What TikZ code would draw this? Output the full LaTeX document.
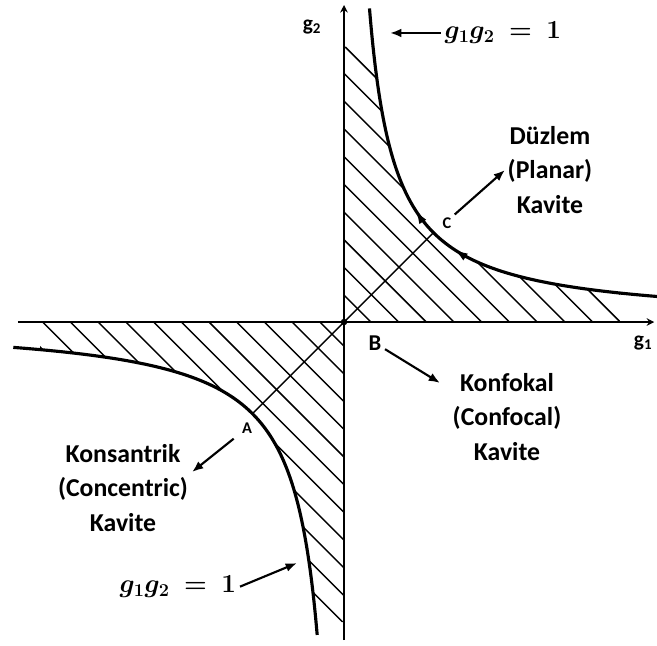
\documentclass[tikz,border=0pt]{standalone}
\usepackage{bm}
\usepackage{fontspec}
\newfontfamily\kavfont{Carlito}
\usetikzlibrary{arrows.meta,positioning,decorations.markings}

\begin{document}
\begin{tikzpicture}[x=2.5cm, y=2.5cm,
    axis/.style={line width=2.3pt, -{Stealth[length=6pt,width=6pt]}},
    branch/.style={line width=2.5pt},
    hatch/.style={line width=1.15pt},
    pointer/.style={line width=1.7pt, -{Latex[length=9pt,width=7pt]}},
    kavite/.style={font=\kavfont\bfseries\fontsize{20.5}{27.5}\selectfont, align=center, inner sep=2pt},
    eqn/.style={font=\fontsize{22}{26}\selectfont, inner sep=3pt},
    ptlbl/.style={font=\kavfont\bfseries\fontsize{13}{15}\selectfont, inner sep=1pt},
    blbl/.style={font=\kavfont\bfseries\fontsize{18}{20}\selectfont, inner sep=1pt},
    axlbl/.style={font=\kavfont\bfseries\fontsize{17}{19}\selectfont, inner sep=1pt}
]
    \useasboundingbox (-3.848,-3.613) rectangle (3.501,3.602);

    % hatching, stable region g1,g2 > 0
    \begin{scope}
        \clip (0,0) -- (0,3.08) -- plot[domain=-1.125:1.128, samples=80] ({exp(\x)},{exp(-\x)}) -- (3.09,0) -- cycle;
        \foreach \c in {0.3,0.61,...,3.8}
            \draw[hatch] (\c,0) -- (0,\c);
    \end{scope}

    % hatching, stable region g1,g2 < 0
    \begin{scope}
        \clip (0,0) -- (0,-3.356) -- plot[domain=-1.1864:1.1994, samples=80] ({-1.0247*exp(\x)},{-1.0247*exp(-\x)}) -- (-3.40,0) -- cycle;
        \foreach \c in {0.27,0.58,...,3.8}
            \draw[hatch] (-\c,0) -- (0,-\c);
    \end{scope}

    % axes
    \coordinate (origin) at (0,0);
    \coordinate (xmin) at (-3.647,0);
    \coordinate (xmax) at (3.47,0);
    \coordinate (ymin) at (0,-3.557);
    \coordinate (ymax) at (0,3.546);
    \draw[axis] (xmin) -- (xmax);
    \draw[axis] (ymin) -- (ymax);
    \fill (origin) circle (2.6pt);

    % g1 g2 = 1
    \draw[branch, postaction={decorate}, decoration={markings,
        mark=at position 5.8cm with {\arrowreversed{Latex[length=12pt,width=6.5pt]}},
        mark=at position 7.35cm with {\arrowreversed{Latex[length=12pt,width=6.5pt]}}}]
        plot[domain=-1.255:1.253, samples=150] ({exp(\x)},{exp(-\x)});
    \draw[branch] plot[domain=-1.2285:1.284, samples=150] ({-1.0247*exp(\x)},{-1.0247*exp(-\x)});

    \coordinate (ptA) at (-1.025,-1.025);
    \coordinate (ptC) at (1,1);
    \draw[hatch] (ptA) -- (ptC);

    \node[axlbl] (g2lbl) at (-0.358,3.30) {g\textsubscript{2}};
    \node[axlbl] (g1lbl) at (3.345,-0.235) {g\textsubscript{1}};

    \node[ptlbl] (labC) at (1.152,1.107) {C};
    \node[blbl] (labB) at (0.347,-0.235) {B};
    \node[ptlbl] (labA) at (-1.085,-1.186) {A};

    \node[eqn, anchor=west] (eqtop) at (1.08,3.233) {$\bm{g_1g_2}\;\bm{=}\;\bm{1}$};
    \coordinate (eqtopTip) at (0.515,3.233);
    \node[eqn, anchor=east] (eqbot) at (-1.163,-2.96) {$\bm{g_1g_2}\;\bm{=}\;\bm{1}$};
    \coordinate (eqbotTip) at (-0.526,-2.696);

    \node[kavite] (planar) at (2.304,1.70) {Düzlem\\(Planar)\\Kavite};
    \node[kavite] (confocal) at (1.823,-1.063) {Konfokal\\(Confocal)\\Kavite};
    \coordinate (confocalTip) at (1.074,-0.682);
    \node[kavite] (concentric) at (-2.472,-1.857) {Konsantrik\\(Concentric)\\Kavite};
    \coordinate (concentricTip) at (-1.70,-1.678);

    % label arrows
    \draw[pointer] (eqtop.west) -- (eqtopTip);
    \draw[pointer] (eqbot.east) -- (eqbotTip);
    \draw[pointer, shorten <=2pt] (labC.north east) -- (planar.west);
    \draw[pointer, shorten <=2pt] (labB) -- (confocalTip);
    \draw[pointer, shorten <=7pt] (labA) -- (concentricTip);
\end{tikzpicture}
\end{document}
